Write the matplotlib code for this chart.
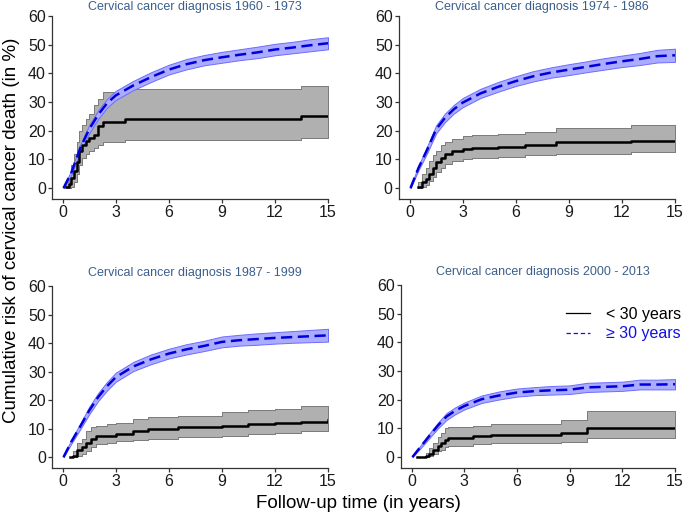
import matplotlib
matplotlib.use("Agg")
import matplotlib.pyplot as plt
from matplotlib.lines import Line2D

plt.rcParams["font.family"] = ["Liberation Sans", "DejaVu Sans"]

titles = ["Cervical cancer diagnosis 1960 - 1973", "Cervical cancer diagnosis 1974 - 1986",
          "Cervical cancer diagnosis 1987 - 1999", "Cervical cancer diagnosis 2000 - 2013"]

# >= 30 years (smooth curves)
old_t = [0.05, 0.5, 1, 1.5, 2, 2.5, 3, 4, 5, 6, 7, 8, 9, 10, 11, 12, 13, 14, 15]
old_est_1 = [0, 5.5, 14, 20.5, 25.5, 29.5, 32.3, 35.8, 38.7, 41.3, 43.2, 44.6, 45.6, 46.5, 47.3, 48.3, 49, 49.8, 50.5]
old_lo_1 = [0, 4.7, 12.8, 19.1, 24.0, 28.0, 30.7, 34.2, 37.0, 39.6, 41.4, 42.8, 43.7, 44.6, 45.3, 46.3, 47.0, 47.7, 48.4]
old_hi_1 = [0.5, 6.3, 15.2, 21.9, 27.0, 31.0, 33.9, 37.4, 40.4, 43.0, 45.0, 46.4, 47.5, 48.4, 49.3, 50.3, 51.0, 51.9, 52.6]
old_est_2 = [0, 7, 13.5, 20.5, 24.5, 27.5, 29.8, 33, 35.3, 37.3, 39, 40.3, 41.3, 42.3, 43.3, 44.2, 45, 46, 46.3]
old_lo_2 = [0, 6.2, 12.3, 19.1, 23.0, 26.0, 28.2, 31.4, 33.6, 35.6, 37.2, 38.5, 39.4, 40.4, 41.3, 42.2, 42.9, 43.8, 44.0]
old_hi_2 = [0.5, 7.8, 14.7, 21.9, 26.0, 29.0, 31.4, 34.6, 37.0, 39.0, 40.8, 42.1, 43.2, 44.2, 45.3, 46.2, 47.1, 48.2, 48.6]
old_est_3 = [0, 5.5, 10.8, 16.3, 21, 24.8, 28, 31.8, 34.3, 36.3, 37.8, 39, 40.4, 41, 41.4, 41.8, 42.1, 42.4, 42.7]
old_lo_3 = [0, 4.8, 9.8, 15.0, 19.6, 23.3, 26.4, 30.2, 32.6, 34.6, 36.0, 37.2, 38.5, 39.1, 39.4, 39.8, 40.1, 40.3, 40.5]
old_hi_3 = [0.5, 6.2, 11.8, 17.6, 22.4, 26.3, 29.6, 33.4, 36.0, 38.0, 39.6, 40.8, 42.3, 42.9, 43.4, 43.8, 44.2, 44.6, 45.0]
old_est_4 = [0, 3.5, 7.3, 11, 14.2, 16.2, 17.8, 20.2, 21.5, 22.5, 23, 23.3, 23.5, 24.3, 24.5, 24.7, 25.3, 25.3, 25.4]
old_lo_4 = [0, 3.0, 6.5, 10.0, 13.0, 15.0, 16.6, 18.9, 20.1, 21.1, 21.6, 21.8, 22.0, 22.7, 22.9, 23.1, 23.6, 23.6, 23.6]
old_hi_4 = [0.4, 4.0, 8.1, 12.0, 15.4, 17.4, 19.0, 21.5, 22.9, 23.9, 24.4, 24.8, 25.0, 25.9, 26.1, 26.3, 27.0, 27.0, 27.2]

# < 30 years (step curves)
young_t_1 = [0.2, 0.35, 0.5, 0.65, 0.8, 0.95, 1.1, 1.3, 1.5, 1.8, 2.0, 2.3, 3.5, 13.5, 15]
young_est_1 = [0.5, 1.5, 3.5, 6, 9, 13, 15, 16.5, 17.5, 18.5, 21.5, 23, 24, 25, 25]
young_lo_1 = [0, 0, 0.5, 2, 5, 8, 10.5, 12, 13, 14, 15, 16, 16.8, 17.4, 17.4]
young_hi_1 = [2, 4.5, 8, 12, 16, 20, 22, 24, 26, 29, 31, 33.5, 34.5, 35.5, 35.5]
young_t_2 = [0.5, 0.7, 0.9, 1.1, 1.3, 1.5, 1.8, 2.0, 2.4, 3.0, 3.5, 5.0, 6.5, 8.3, 12.5, 15]
young_est_2 = [0.5, 2, 3, 5, 7, 9, 10.5, 12, 13, 13.5, 14, 14.5, 15, 16, 16.5, 16.5]
young_lo_2 = [0, 0.5, 1, 2.5, 4, 5.5, 7, 8.5, 9.5, 10, 10.5, 11, 11.5, 12, 12.5, 12.5]
young_hi_2 = [2, 5, 7, 9.5, 11.5, 13, 15, 16, 17, 18, 18.5, 19, 19.5, 21, 22, 22]
young_t_3 = [0.4, 0.6, 0.8, 1.1, 1.3, 1.6, 1.9, 2.5, 3.0, 4.0, 4.8, 6.5, 9.0, 10.5, 12, 13.5, 15]
young_est_3 = [0, 0.5, 2.5, 3.5, 5, 6.5, 7.3, 7.5, 8.2, 9, 10, 10.5, 11, 11.5, 12, 12.5, 13]
young_lo_3 = [0, 0, 0.5, 1, 2, 3.5, 4.5, 5, 5.5, 6, 6.5, 7, 7.5, 8, 8.5, 9, 9.5]
young_hi_3 = [0, 2, 5, 6.5, 9, 10.5, 11, 11.5, 12, 13.5, 14, 14.5, 16, 16.5, 17, 18, 18]
young_t_4 = [0.3, 0.8, 1.0, 1.2, 1.5, 1.7, 1.9, 2.1, 3.5, 4.5, 8.5, 10, 15]
young_est_4 = [0, 0.5, 1, 2.5, 4, 5, 6, 6.8, 7.2, 7.7, 8.3, 10.3, 10.3]
young_lo_4 = [0, 0, 0.3, 1, 2, 2.5, 3.5, 4, 4.5, 5, 5.3, 6.7, 6.7]
young_hi_4 = [0, 1.5, 3, 5, 7, 8.5, 10, 10.5, 11, 11.5, 13, 16, 16]

old = [(old_est_1, old_lo_1, old_hi_1), (old_est_2, old_lo_2, old_hi_2),
       (old_est_3, old_lo_3, old_hi_3), (old_est_4, old_lo_4, old_hi_4)]
young = [(young_t_1, young_est_1, young_lo_1, young_hi_1), (young_t_2, young_est_2, young_lo_2, young_hi_2),
         (young_t_3, young_est_3, young_lo_3, young_hi_3), (young_t_4, young_est_4, young_lo_4, young_hi_4)]

xticks = [0, 3, 6, 9, 12, 15]
yticks = [0, 10, 20, 30, 40, 50, 60]

W, H = 685, 516
fig = plt.figure(figsize=(W / 100, H / 100), dpi=100)
# axes boxes in pixels: left, top, right, bottom
boxes = [(52, 16, 328, 199), (399, 16, 675, 199), (52, 286, 328, 468), (401, 285, 675, 468)]
title_y = [63.2, 63.2, 64.6, 64.6]

for i, (l, t, r, b) in enumerate(boxes):
    ax = fig.add_axes([l / W, (H - b) / H, (r - l) / W, (b - t) / H])
    ax.set_xlim(-0.6, 15)
    ax.set_ylim(-3.8, 60)
    for s in ["top", "right"]:
        ax.spines[s].set_visible(False)
    for s in ["left", "bottom"]:
        ax.spines[s].set_linewidth(0.9)
        ax.spines[s].set_color("#333333")
    ax.set_xticks(xticks)
    ax.set_yticks(yticks)
    ax.tick_params(labelsize=11.5, length=3, width=0.9, pad=1.5, color="#333333", labelcolor="#1a1a1a")

    tt, est, lo, hi = young[i]
    ax.fill_between(tt, lo, hi, step="post", facecolor="#b0b0b0", edgecolor="#7a7a7a", linewidth=0.7)
    ax.plot(tt, est, drawstyle="steps-post", color="black", lw=1.8)

    est, lo, hi = old[i]
    ax.fill_between(old_t, lo, hi, facecolor="#ababff", edgecolor="#6c6cff", linewidth=0.7)
    ax.plot(old_t, est, color="#0000dd", lw=1.8, dashes=(4.5, 2.2))

    ax.text(7.5, title_y[i], titles[i], ha="center", va="center", fontsize=9, color="#3b5f8c", clip_on=False)

    if i == 3:
        handles = [Line2D([0], [0], color="black", lw=0.9),
                   Line2D([0], [0], color="#1010e6", lw=0.9, dashes=(3.5, 2.2))]
        ax.legend(handles, ["< 30 years", "\u2265 30 years"], loc="upper right", bbox_to_anchor=(1.075, 0.96),
                  frameon=False, fontsize=11.5, handlelength=1.5, handletextpad=1.0, labelspacing=0.3,
                  labelcolor=["black", "#1010e6"])

fig.text(12 / W, 1 - 230 / H, "Cumulative risk of cervical cancer death (in %)", rotation=90,
         ha="center", va="center", fontsize=13.5)
fig.text(358 / W, 1 - 504 / H, "Follow-up time (in years)", ha="center", va="center", fontsize=13.5)

fig.savefig("out.png", dpi=100)
